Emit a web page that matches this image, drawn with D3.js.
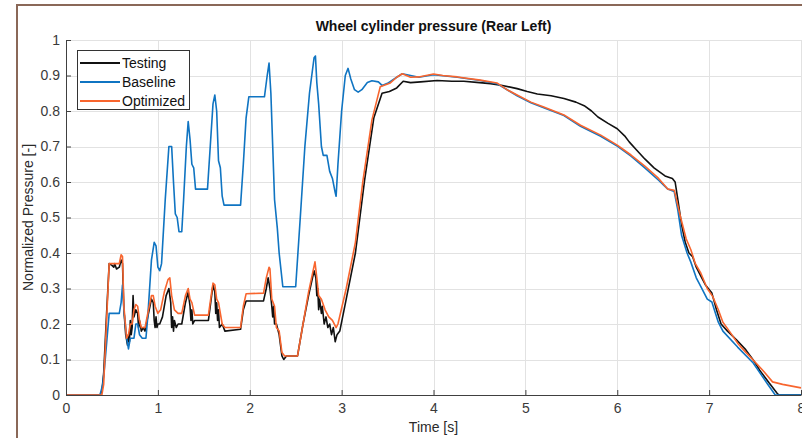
<!DOCTYPE html>
<html><head><meta charset="utf-8">
<script src="https://cdn.jsdelivr.net/npm/d3@7"></script>
<style>
html,body{margin:0;padding:0;background:#fff;}
svg{display:block;font-family:"Liberation Sans",Arial,Helvetica,sans-serif;}
</style></head>
<body><svg id="c" width="802" height="438"></svg>
<script>
const title = "Wheel cylinder pressure (Rear Left)";
const xLabel = "Time [s]";
const yLabel = "Normalized Pressure [-]";
const xTicks = [0,1,2,3,4,5,6,7,8];
const yTicks = [0,0.1,0.2,0.3,0.4,0.5,0.6,0.7,0.8,0.9,1];
const seriesNames = ["Testing","Baseline","Optimized"];
const seriesColors = ["#111111","#0f74c2","#f8652e"];

const testing = [[0,0],[0.37,0],[0.39,0.01],[0.41,0.06],[0.44,0.22],[0.47,0.37],[0.50,0.365],[0.52,0.36],[0.53,0.37],[0.55,0.355],[0.58,0.36],[0.60,0.38],[0.615,0.37],[0.63,0.24],[0.65,0.17],[0.67,0.14],[0.68,0.17],[0.69,0.15],[0.70,0.21],[0.71,0.17],[0.72,0.19],[0.73,0.28],[0.74,0.22],[0.76,0.24],[0.78,0.23],[0.79,0.19],[0.80,0.21],[0.82,0.18],[0.84,0.19],[0.86,0.18],[0.89,0.22],[0.93,0.27],[0.95,0.26],[0.96,0.21],[0.97,0.19],[0.98,0.22],[0.99,0.19],[1.00,0.20],[1.02,0.20],[1.05,0.22],[1.09,0.28],[1.12,0.30],[1.14,0.26],[1.15,0.19],[1.16,0.22],[1.17,0.18],[1.18,0.21],[1.20,0.19],[1.22,0.20],[1.26,0.20],[1.30,0.26],[1.33,0.29],[1.35,0.25],[1.36,0.21],[1.37,0.24],[1.38,0.20],[1.40,0.21],[1.55,0.21],[1.58,0.27],[1.60,0.31],[1.62,0.29],[1.63,0.23],[1.64,0.26],[1.65,0.21],[1.66,0.24],[1.67,0.19],[1.70,0.20],[1.73,0.18],[1.90,0.185],[1.93,0.24],[1.96,0.265],[2.15,0.265],[2.18,0.30],[2.20,0.33],[2.22,0.30],[2.24,0.25],[2.25,0.22],[2.26,0.25],[2.27,0.20],[2.29,0.20],[2.32,0.17],[2.35,0.11],[2.37,0.10],[2.40,0.11],[2.52,0.11],[2.58,0.20],[2.64,0.28],[2.70,0.35],[2.72,0.33],[2.73,0.28],[2.74,0.30],[2.75,0.24],[2.76,0.27],[2.78,0.23],[2.79,0.25],[2.81,0.20],[2.83,0.22],[2.85,0.19],[2.87,0.20],[2.89,0.17],[2.91,0.19],[2.93,0.15],[2.95,0.17],[2.98,0.18],[3.05,0.27],[3.15,0.40],[3.25,0.605],[3.35,0.78],[3.44,0.85],[3.52,0.855],[3.60,0.865],[3.67,0.884],[3.75,0.88],[3.86,0.882],[4.04,0.886],[4.2,0.884],[4.33,0.884],[4.5,0.88],[4.62,0.877],[4.75,0.872],[4.91,0.863],[5.02,0.855],[5.13,0.848],[5.28,0.843],[5.42,0.835],[5.55,0.825],[5.64,0.815],[5.72,0.80],[5.79,0.783],[5.9,0.765],[6.0,0.75],[6.08,0.73],[6.13,0.713],[6.21,0.69],[6.3,0.665],[6.4,0.64],[6.52,0.617],[6.6,0.61],[6.63,0.60],[6.66,0.55],[6.70,0.48],[6.74,0.43],[6.78,0.40],[6.82,0.39],[6.86,0.36],[6.90,0.34],[6.96,0.31],[7.03,0.287],[7.08,0.24],[7.13,0.20],[7.2,0.18],[7.3,0.155],[7.4,0.127],[7.48,0.099],[7.55,0.07],[7.65,0.035],[7.74,0.005],[7.76,0],[8,0]];

const baseline = [[0,0],[0.37,0],[0.40,0.03],[0.42,0.08],[0.47,0.23],[0.58,0.23],[0.60,0.26],[0.615,0.31],[0.63,0.24],[0.66,0.16],[0.68,0.13],[0.70,0.16],[0.74,0.16],[0.76,0.20],[0.78,0.20],[0.80,0.17],[0.83,0.16],[0.87,0.16],[0.89,0.22],[0.93,0.38],[0.96,0.43],[0.98,0.42],[1.00,0.36],[1.02,0.35],[1.04,0.37],[1.08,0.55],[1.12,0.70],[1.15,0.70],[1.17,0.60],[1.19,0.51],[1.21,0.50],[1.23,0.46],[1.26,0.46],[1.28,0.55],[1.31,0.70],[1.33,0.77],[1.35,0.72],[1.37,0.65],[1.39,0.64],[1.41,0.58],[1.54,0.58],[1.57,0.70],[1.60,0.82],[1.62,0.845],[1.64,0.80],[1.66,0.66],[1.68,0.64],[1.70,0.56],[1.72,0.535],[1.90,0.535],[1.93,0.65],[1.96,0.78],[1.99,0.84],[2.16,0.84],[2.19,0.90],[2.21,0.935],[2.23,0.85],[2.25,0.70],[2.27,0.55],[2.30,0.47],[2.32,0.40],[2.36,0.305],[2.50,0.305],[2.55,0.50],[2.60,0.70],[2.65,0.85],[2.70,0.95],[2.715,0.955],[2.73,0.88],[2.75,0.82],[2.78,0.70],[2.80,0.675],[2.84,0.675],[2.87,0.63],[2.90,0.61],[2.93,0.57],[2.94,0.56],[2.96,0.65],[3.0,0.80],[3.04,0.90],[3.07,0.92],[3.10,0.89],[3.14,0.86],[3.18,0.853],[3.22,0.86],[3.28,0.88],[3.33,0.885],[3.40,0.882],[3.44,0.872],[3.50,0.878],[3.60,0.895],[3.66,0.905],[3.84,0.895],[4.0,0.902],[4.26,0.895],[4.51,0.886],[4.69,0.877],[4.91,0.843],[5.06,0.823],[5.2,0.809],[5.42,0.787],[5.6,0.757],[5.82,0.729],[6.0,0.701],[6.15,0.673],[6.3,0.64],[6.45,0.605],[6.55,0.58],[6.62,0.573],[6.66,0.52],[6.70,0.45],[6.76,0.40],[6.80,0.375],[6.86,0.33],[6.91,0.305],[6.98,0.27],[7.03,0.262],[7.10,0.205],[7.15,0.18],[7.31,0.135],[7.48,0.09],[7.63,0.033],[7.72,0],[8,0]];

const optimized = [[0,0],[0.39,0],[0.41,0.03],[0.44,0.20],[0.47,0.37],[0.50,0.37],[0.58,0.37],[0.60,0.395],[0.615,0.39],[0.63,0.25],[0.66,0.16],[0.68,0.17],[0.70,0.20],[0.72,0.20],[0.74,0.24],[0.76,0.255],[0.78,0.25],[0.80,0.21],[0.82,0.19],[0.86,0.19],[0.89,0.23],[0.93,0.28],[0.95,0.28],[0.97,0.25],[1.00,0.23],[1.03,0.24],[1.07,0.29],[1.11,0.325],[1.13,0.33],[1.15,0.28],[1.18,0.24],[1.22,0.23],[1.26,0.23],[1.30,0.28],[1.33,0.30],[1.35,0.27],[1.37,0.26],[1.40,0.225],[1.55,0.225],[1.58,0.28],[1.60,0.315],[1.62,0.31],[1.64,0.27],[1.66,0.26],[1.70,0.20],[1.73,0.19],[1.90,0.19],[1.93,0.25],[1.96,0.285],[2.15,0.287],[2.18,0.33],[2.21,0.36],[2.22,0.355],[2.24,0.27],[2.27,0.25],[2.29,0.19],[2.32,0.18],[2.35,0.12],[2.38,0.11],[2.52,0.11],[2.58,0.20],[2.64,0.29],[2.71,0.375],[2.73,0.33],[2.75,0.28],[2.78,0.27],[2.82,0.24],[2.86,0.22],[2.90,0.21],[2.94,0.19],[2.96,0.20],[3.05,0.30],[3.15,0.43],[3.23,0.60],[3.33,0.775],[3.42,0.868],[3.53,0.879],[3.60,0.895],[3.66,0.905],[3.75,0.895],[3.84,0.896],[4.0,0.904],[4.1,0.900],[4.26,0.896],[4.51,0.887],[4.69,0.879],[4.8,0.86],[4.91,0.845],[5.06,0.825],[5.2,0.811],[5.42,0.789],[5.6,0.76],[5.82,0.732],[6.0,0.704],[6.15,0.676],[6.3,0.645],[6.45,0.61],[6.55,0.58],[6.62,0.577],[6.69,0.50],[6.75,0.44],[6.80,0.41],[6.85,0.37],[6.91,0.343],[6.98,0.30],[7.04,0.277],[7.10,0.24],[7.15,0.205],[7.22,0.18],[7.31,0.146],[7.40,0.12],[7.51,0.09],[7.60,0.065],[7.69,0.037],[7.8,0.03],[7.9,0.025],[8.0,0.02]];

const seriesData = [testing, baseline, optimized];

const svg = d3.select("#c");
const L = 66, R = 801, T = 40, B = 395;
const x = d3.scaleLinear().domain([0,8]).range([L,R]);
const y = d3.scaleLinear().domain([0,1]).range([B,T]);

// window frame
svg.append("path").attr("d","M17,438V5H802").attr("fill","none")
  .attr("stroke","#8a6858").attr("stroke-width",2);

// grid
const grid = svg.append("g").attr("stroke","#e2e2e2").attr("stroke-width",1);
xTicks.filter(d=>d>0).forEach(d=>grid.append("line")
  .attr("x1",Math.round(x(d))+0.5).attr("x2",Math.round(x(d))+0.5).attr("y1",T).attr("y2",B));
yTicks.filter(d=>d>0).forEach(d=>grid.append("line")
  .attr("x1",L).attr("x2",R).attr("y1",Math.round(y(d))+0.5).attr("y2",Math.round(y(d))+0.5));

// lines
const line = d3.line().x(d=>x(d[0])).y(d=>y(d[1]));
const plot = svg.append("g");
seriesData.forEach((s,i)=>plot.append("path").datum(s).attr("d",line)
  .attr("fill","none").attr("stroke",seriesColors[i]).attr("stroke-width",1.6)
  .attr("stroke-linejoin","round"));

// axes
const xAxis = d3.axisBottom(x).tickValues(xTicks).tickFormat(d=>String(d))
  .tickSizeInner(-5).tickSizeOuter(0).tickPadding(8);
const yAxis = d3.axisLeft(y).tickValues(yTicks).tickFormat(d=>String(d))
  .tickSizeInner(-5).tickSizeOuter(0).tickPadding(6);
const gx = svg.append("g").attr("transform",`translate(0,${B})`).call(xAxis);
const gy = svg.append("g").attr("transform",`translate(${L},0)`).call(yAxis);
[gx,gy].forEach(g=>{
  g.select(".domain").attr("stroke","#404040");
  g.selectAll(".tick line").attr("stroke","#404040");
  g.selectAll("text").attr("fill","#3a3a3a").style("font-size","14px")
   .style("font-family",'"Liberation Sans",Arial,sans-serif');
});

// title & labels
svg.append("text").attr("x",(L+R)/2).attr("y",31).attr("text-anchor","middle")
  .style("font-size","14px").style("font-weight","bold").attr("fill","#111").text(title);
svg.append("text").attr("x",(L+R)/2).attr("y",432).attr("text-anchor","middle")
  .style("font-size","14px").attr("fill","#2a2a2a").text(xLabel);
svg.append("text").attr("transform",`translate(33,${(T+B)/2}) rotate(-90)`).attr("text-anchor","middle")
  .style("font-size","14px").attr("fill","#2a2a2a").text(yLabel);

// legend
const lg = svg.append("g");
lg.append("rect").attr("x",77.5).attr("y",50.5).attr("width",112).attr("height",59)
  .attr("fill","#fff").attr("stroke","#333").attr("stroke-width",1);
seriesNames.forEach((n,i)=>{
  const yy = 63 + i*19;
  lg.append("line").attr("x1",80).attr("x2",120).attr("y1",yy).attr("y2",yy)
    .attr("stroke",seriesColors[i]).attr("stroke-width",2);
  lg.append("text").attr("x",122).attr("y",yy+5).style("font-size","14px").attr("fill","#111").text(n);
});
</script></body></html>
